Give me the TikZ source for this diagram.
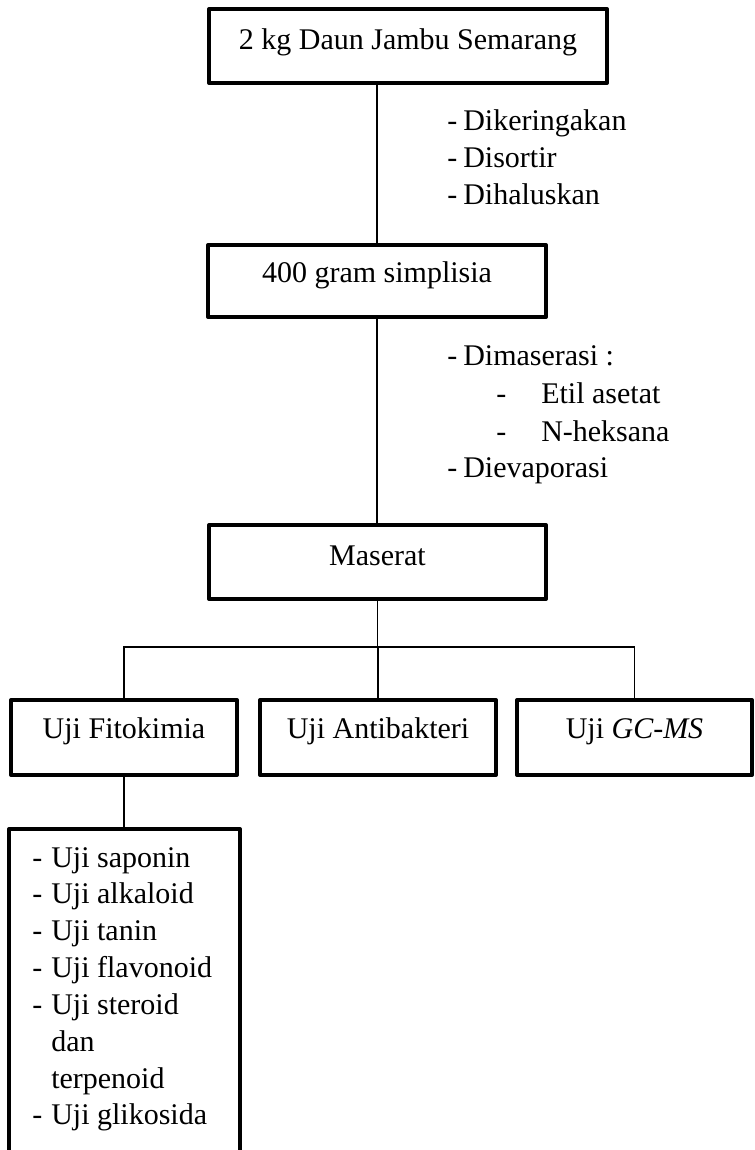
\documentclass[tikz,border=0pt]{standalone}
\usepackage{fontspec}
\setmainfont{Liberation Serif}
\usepackage{tikz}
\usetikzlibrary{positioning}
\newcommand{\hurufbesar}{\fontsize{22.5}{27.75}\selectfont}

\begin{document}
\begin{tikzpicture}[x=0.75pt,y=-0.75pt,
  boks/.style={draw,line width=3pt,line join=round,inner xsep=0pt,inner ysep=0pt,
               font=\hurufbesar},
  garis/.style={line width=1.2pt},
  teks/.style={anchor=base west,inner sep=0pt,font=\hurufbesar},
]
\clip (0,0) rectangle (754,1150);
\node[boks,minimum width=298.5pt,text height=30pt,text depth=25.5pt] (daun) at (408,46) {2 kg Daun Jambu Semarang};
\node[boks,minimum width=253.5pt,text height=27.75pt,text depth=26.25pt] (simp) at (377,281) {400 gram simplisia};
\node[boks,minimum width=252.75pt,text height=30pt,text depth=25.5pt] (mas) at (377.5,562) {Maserat};
\node[boks,minimum width=169.5pt,text height=28.5pt,text depth=27.75pt] (fito) at (124,737.5) {Uji Fitokimia};
\node[boks,minimum width=177pt,text height=28.5pt,text depth=27.75pt] (anti) at (378,737.5) {Uji Antibakteri};
\node[boks,minimum width=176.25pt,text height=28.5pt,text depth=27.75pt] (gcms) at (634.5,737.5) {Uji \textit{GC-MS}};
\node[boks,anchor=north,minimum width=173.25pt,minimum height=270pt] (daftar) at (124.5,827) {};

% langkah pengolahan
\foreach \dx/\tx/\t/\yy in {447/463/Dikeringakan/130,447/463/Disortir/167,447/463/Dihaluskan/204,
    447/463/Dimaserasi :/365,496/541/Etil asetat/403,496/541/N-heksana/441,447/463/Dievaporasi/477}{
  \node[teks] (strip\yy) at (\dx,\yy) {-};
  \node[teks] (langkah\yy) at (\tx,\yy) {\t};
}

% daftar uji fitokimia
\foreach \d/\t [count=\i] in {-/Uji saponin,-/Uji alkaloid,-/Uji tanin,-/Uji flavonoid,
    -/Uji steroid,{}/dan,{}/terpenoid,-/Uji glikosida}{
  \node[teks] (ustrip\i) at (32,867+36.85*\i-36.85) {\d};
  \node[teks] (uji\i) at (51,867+36.85*\i-36.85) {\t};
}

\coordinate (cabang) at (377,647);
\draw[garis] (daun.south -| simp.north) -- (simp.north);
\draw[garis] (simp.south) -- (simp.south |- mas.north);
\draw[garis] (mas.south) -- (mas.south |- cabang);
\draw[garis] (fito.north) |- (gcms.north |- cabang) -- (gcms.north);
\draw[garis] (anti.north) -- (anti.north |- cabang);
\draw[garis] (fito.south) -- (fito.south |- daftar.north);
\end{tikzpicture}
\end{document}
